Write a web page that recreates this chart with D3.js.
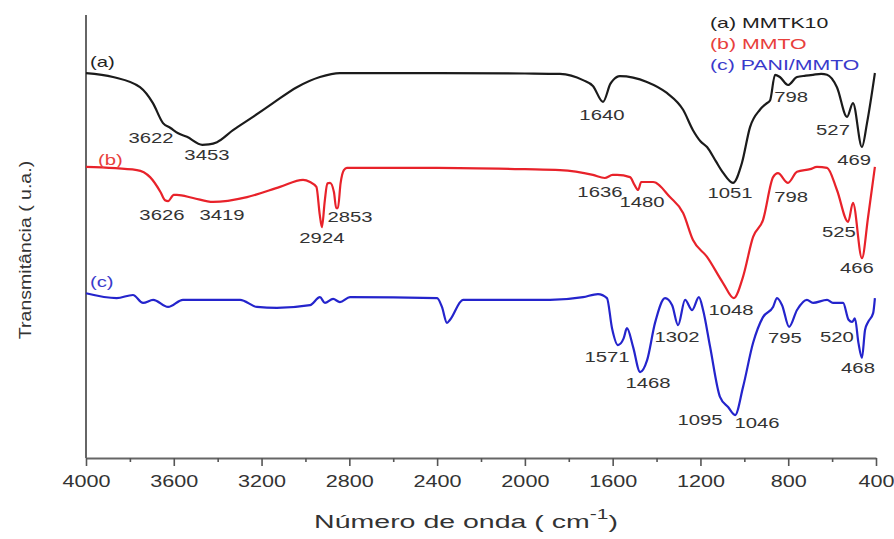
<!DOCTYPE html>
<html>
<head>
<meta charset="utf-8">
<script src="https://cdn.jsdelivr.net/npm/d3@7"></script>
<style>
  body { margin: 0; background: #fff; }
  text { font-family: Arial, "Liberation Sans", sans-serif; }
</style>
</head>
<body>
<svg id="chart" width="894" height="539"></svg>
<script>
// wavenumber (cm-1), transmittance (arbitrary units, offset per curve)
const mmtk10 = [
  [4000, 86.9], [3877, 86.0], [3754, 83.7], [3695, 80.1], [3649, 75.6], [3615, 74.5],
  [3580, 73.3], [3540, 72.5], [3470, 70.7], [3440, 70.8], [3403, 71.3], [3330, 74.0],
  [3239, 77.0], [3148, 80.1], [3039, 83.7], [2934, 86.0], [2843, 86.9], [2400, 86.9],
  [2000, 86.8], [1840, 86.7], [1735, 85.3], [1690, 84.0], [1644, 80.4], [1610, 84.5],
  [1598, 85.3], [1567, 86.2], [1444, 84.9], [1353, 82.4], [1279, 78.6], [1234, 74.0],
  [1200, 71.5], [1170, 70.2], [1130, 67.0], [1097, 64.4], [1052, 62.1], [1011, 66.6],
  [974, 74.7], [929, 78.6], [900, 80.0], [883, 80.7], [860, 86.5], [838, 86.0],
  [801, 84.2], [760, 86.0], [720, 86.3], [687, 86.5], [650, 86.7], [623, 86.5],
  [578, 83.7], [532, 77.0], [505, 80.1], [464, 70.2], [441, 75.6], [405, 86.9]
];
const mmto = [
  [4000, 65.7], [3768, 65.0], [3708, 63.4], [3660, 60.0], [3640, 58.2], [3626, 58.0],
  [3600, 59.4], [3586, 59.4], [3512, 58.7], [3421, 57.8], [3266, 58.9], [3116, 61.2],
  [3011, 62.8], [2979, 62.3], [2950, 61.2], [2935, 55.0], [2925, 52.1], [2912, 58.0],
  [2900, 62.0], [2888, 62.1], [2870, 60.0], [2860, 56.4], [2852, 56.4], [2840, 62.0],
  [2825, 65.0], [2811, 65.5], [2400, 65.5], [2000, 65.2], [1840, 65.0], [1690, 63.9],
  [1636, 63.2], [1600, 63.9], [1580, 63.9], [1521, 63.4], [1500, 61.6], [1484, 60.5],
  [1470, 62.3], [1462, 62.3], [1416, 62.3], [1339, 58.9], [1279, 55.3], [1234, 49.2],
  [1170, 45.4], [1097, 39.5], [1048, 36.1], [1006, 40.9], [960, 49.9], [915, 53.7],
  [869, 63.4], [847, 64.3], [801, 62.1], [760, 64.6], [700, 65.2], [669, 65.7],
  [623, 65.5], [578, 60.5], [527, 53.3], [505, 57.6], [464, 45.1], [436, 54.4],
  [405, 65.7]
];
const paniMmto = [
  [4000, 37.2], [3860, 36.1], [3786, 36.8], [3740, 35.0], [3694, 35.7], [3626, 34.1],
  [3558, 35.7], [3298, 35.7], [3221, 34.1], [3130, 33.9], [2979, 34.5], [2934, 36.3],
  [2911, 35.0], [2874, 35.9], [2843, 35.2], [2797, 36.3], [2400, 36.1], [2378, 34.1],
  [2355, 30.5], [2341, 31.2], [2282, 35.7], [1885, 35.7], [1735, 36.3], [1667, 37.0],
  [1626, 36.1], [1603, 29.3], [1576, 25.5], [1550, 27.0], [1535, 29.3], [1507, 25.1],
  [1475, 19.4], [1443, 22.1], [1407, 30.5], [1361, 36.1], [1329, 34.5], [1302, 30.0],
  [1270, 35.7], [1238, 33.4], [1207, 36.3], [1188, 33.4], [1156, 25.1], [1111, 13.8],
  [1074, 11.5], [1042, 9.7], [1006, 16.0], [960, 26.0], [915, 31.8], [869, 34.1],
  [851, 36.1], [828, 34.5], [796, 29.6], [760, 33.4], [715, 35.7], [687, 35.0],
  [623, 35.7], [596, 35.0], [550, 35.0], [525, 31.2], [509, 30.7], [496, 31.5],
  [480, 26.0], [464, 22.6], [450, 28.9], [436, 30.7], [413, 32.7], [405, 36.1]
];

// peak labels: text, wavenumber, value (anchor = text centre / baseline)
const peaksA = [
  ["3622", 3704, 71.1], ["3453", 3449, 67.3], ["1640", 1649, 76.3], ["1051", 1065, 58.7],
  ["798", 787, 80.4], ["527", 596, 72.9], ["469", 500, 66.1]
];
const peaksB = [
  ["3626", 3654, 53.7], ["3419", 3380, 53.7], ["2924", 2925, 48.5], ["2853", 2797, 53.3],
  ["1636", 1658, 58.9], ["1480", 1466, 56.7], ["798", 787, 57.8], ["1048", 1061, 32.3],
  ["525", 569, 49.9], ["466", 487, 41.8]
];
const peaksC = [
  ["1571", 1626, 21.7], ["1468", 1439, 15.8], ["1302", 1307, 26.2], ["1095", 1202, 7.4],
  ["1046", 942, 6.8], ["795", 815, 26.0], ["520", 578, 26.2], ["468", 482, 19.2]
];
const curveTags = [["(a)", 3982, 88.3], ["(b)", 3945, 66.1], ["(c)", 3982, 38.6]];
const legendNames = ["(a) MMTK10", "(b) MMTO", "(c) PANI/MMTO"];
const xTicks = [4000, 3600, 3200, 2800, 2400, 2000, 1600, 1200, 800, 400];

const colors = ["#1b1b1b", "#e8222a", "#2424cc"];
const legendColors = ["#222", "#e8403c", "#3a3acb"];
const STRETCH = 1.4;

const svg = d3.select("#chart");
const x = d3.scaleLinear().domain([4000, 400]).range([86, 876]);
const y = d3.scaleLinear().domain([0, 100]).range([458, 15]);

function place(sel, px, py, s) {
  sel.attr("transform", "translate(" + px + "," + py + ") scale(" + s + ",1)");
}

// axes
const xAxis = d3.axisBottom(x)
  .tickValues(d3.range(4000, 399, -200))
  .tickSize(8)
  .tickSizeOuter(0)
  .tickFormat(d => (xTicks.includes(d) ? d : ""));
const gx = svg.append("g").attr("transform", "translate(0,458)").call(xAxis);
gx.select(".domain").attr("stroke", "#666").attr("stroke-width", 2);
gx.selectAll(".tick line")
  .attr("stroke", "#555")
  .attr("stroke-width", 1.6)
  .attr("y2", d => (xTicks.includes(d) ? 8 : 4));
gx.selectAll(".tick text")
  .attr("y", 0).attr("dy", 0)
  .attr("fill", "#333")
  .attr("font-size", 16)
  .attr("transform", "translate(0,29) scale(1.35,1)");

svg.append("line")
  .attr("x1", x(4000)).attr("x2", x(4000))
  .attr("y1", y(100)).attr("y2", y(0))
  .attr("stroke", "#666").attr("stroke-width", 2);

// curves
const line = d3.line()
  .x(d => x(d[0]))
  .y(d => y(d[1]))
  .curve(d3.curveMonotoneX);

[mmtk10, mmto, paniMmto].forEach((s, i) => {
  svg.append("path")
    .datum(s)
    .attr("fill", "none")
    .attr("stroke", colors[i])
    .attr("stroke-width", 2.2)
    .attr("stroke-linejoin", "round")
    .attr("d", line);
});

// peak labels
[peaksA, peaksB, peaksC].forEach(list => {
  list.forEach(p => {
    svg.append("text")
      .text(p[0])
      .attr("text-anchor", "middle")
      .attr("font-size", 14.5)
      .attr("fill", "#333")
      .call(place, x(p[1]), y(p[2]), STRETCH);
  });
});

// curve tags
curveTags.forEach((t, i) => {
  svg.append("text")
    .text(t[0])
    .attr("font-size", 14.5)
    .attr("fill", i === 0 ? "#222" : legendColors[i])
    .call(place, x(t[1]), y(t[2]), STRETCH);
});

// legend
const legendBase = [28, 49, 70];
legendNames.forEach((n, i) => {
  svg.append("text")
    .text(n)
    .attr("font-size", 15)
    .attr("fill", legendColors[i])
    .call(place, 710, legendBase[i], 1.42);
});

// axis titles
const xt = svg.append("text")
  .attr("font-size", 19)
  .attr("fill", "#333")
  .attr("text-anchor", "middle");
xt.append("tspan").text("Número de onda  ( cm");
xt.append("tspan").text("-1").attr("font-size", 14).attr("dy", -9);
xt.append("tspan").text(")").attr("dy", 9);
place(xt, 466, 528, 1.5);

svg.append("text")
  .text("Transmitância  ( u.a.)")
  .attr("font-size", 17)
  .attr("fill", "#333")
  .attr("text-anchor", "middle")
  .attr("transform", "translate(31,250) rotate(-90) scale(1.15,1)");
</script>
</body>
</html>
